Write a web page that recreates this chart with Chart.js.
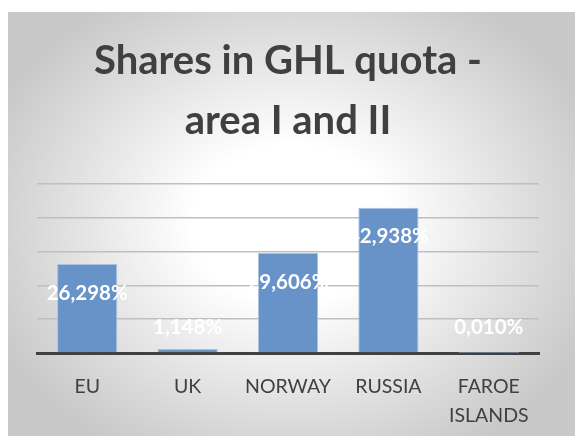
<!DOCTYPE html>
<html>
<head>
<meta charset="utf-8">
<script src="https://cdn.jsdelivr.net/npm/chart.js@4"></script>
<style>
  html, body { margin: 0; padding: 0; background: #ffffff; }
  #wrap {
    position: absolute; left: 8px; top: 12px; width: 567px; height: 424px;
    background: radial-gradient(ellipse 58% 62% at 50% 50%, #ffffff 30%, #d9d9d9 78%, #c8c8c8 100%);
  }
</style>
</head>
<body>
<div id="wrap"><canvas id="quotaChart" width="567" height="424"></canvas></div>
<script>
const countries = ['EU', 'UK', 'NORWAY', 'RUSSIA', ['FAROE', 'ISLANDS']];
const shares = [26.298, 1.148, 29.606, 42.938, 0.010];
const chartTitle = ['Shares in GHL quota -', 'area I and II'];

// white value labels, drawn just inside the top of each bar
const valueLabels = {
  id: 'valueLabels',
  afterDatasetsDraw(chart) {
    const ctx = chart.ctx;
    const meta = chart.getDatasetMeta(0);
    ctx.save();
    ctx.font = 'bold 20.5px Lato';
    ctx.fillStyle = '#ffffff';
    ctx.textAlign = 'center';
    ctx.textBaseline = 'middle';
    meta.data.forEach((bar, i) => {
      const y = Math.min(bar.y + 29, bar.base - 25);
      ctx.fillText(shares[i].toFixed(3).replace('.', ',') + '%', bar.x, y);
    });
    ctx.restore();
  }
};

const ctx = document.getElementById('quotaChart').getContext('2d');
const quotaChart = new Chart(ctx, {
  type: 'bar',
  data: {
    labels: countries,
    datasets: [{
      label: 'Share',
      data: shares,
      backgroundColor: '#6893c9',
      borderColor: '#a9c2e2',
      borderWidth: 1,
      categoryPercentage: 1,
      barPercentage: 0.6
    }]
  },
  options: {
    responsive: false,
    animation: false,
    layout: { padding: { left: 29, right: 36, top: 0, bottom: 0 } },
    plugins: {
      legend: { display: false },
      tooltip: { enabled: false },
      title: {
        display: true,
        text: chartTitle,
        color: '#404040',
        font: { family: 'Lato', size: 40, weight: 'bold', lineHeight: 1.5 },
        padding: { top: 19, bottom: 33 }
      }
    },
    scales: {
      y: {
        min: 0,
        max: 50,
        ticks: { display: false, stepSize: 10 },
        grid: { color: '#bfbfbf', lineWidth: 1.5, drawTicks: false },
        border: { display: false }
      },
      x: {
        afterFit(scale) { scale.height = 83; },
        grid: { display: false, drawTicks: false },
        border: { color: '#404040', width: 3 },
        ticks: {
          color: '#404040',
          font: { family: 'Lato', size: 19.5, lineHeight: 1.45 },
          padding: 20,
          maxRotation: 0,
          autoSkip: false
        }
      }
    }
  },
  plugins: [valueLabels]
});
</script>
</body>
</html>
